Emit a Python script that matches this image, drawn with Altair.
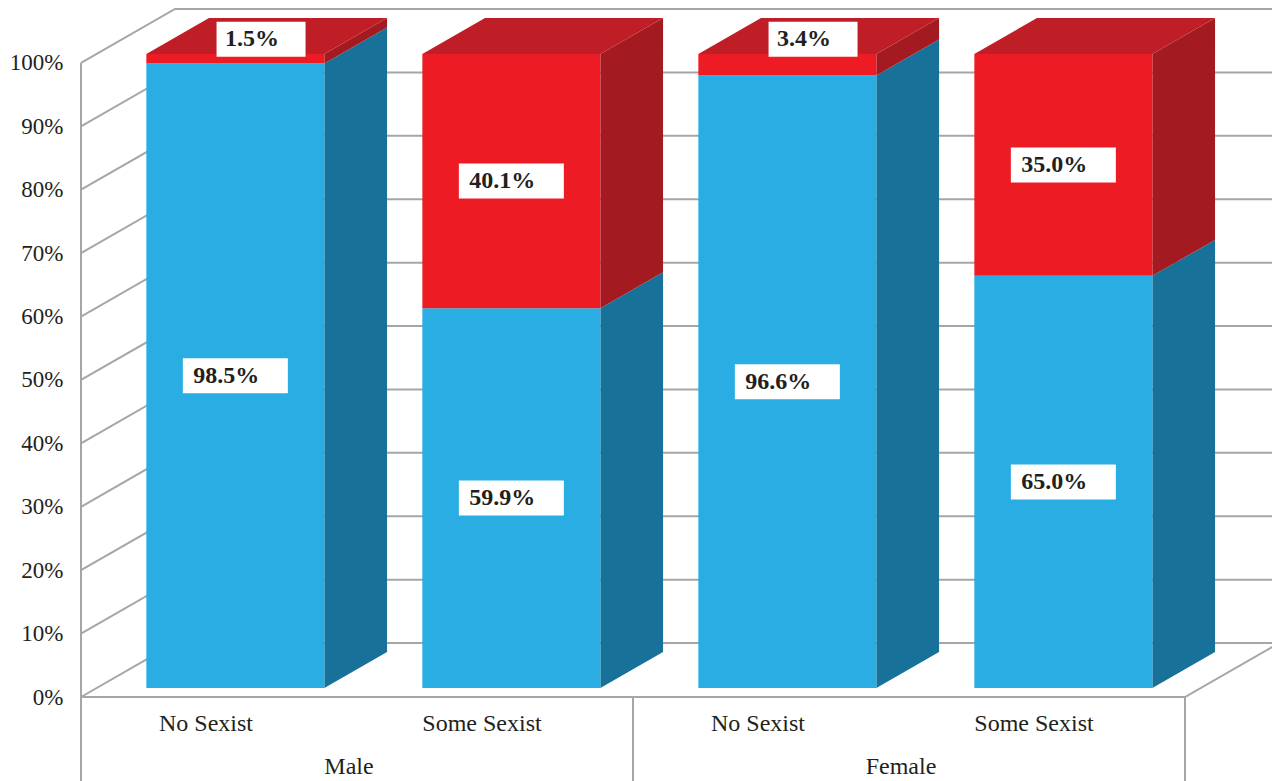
import altair as alt
import pandas as pd

# data
groups = ["Male", "Female"]
subgroups = ["No Sexist", "Some Sexist", "No Sexist", "Some Sexist"]
blue_pct = [98.5, 59.9, 96.6, 65.0]
red_pct = [1.5, 40.1, 3.4, 35.0]
y_ticks = [0, 10, 20, 30, 40, 50, 60, 70, 80, 90, 100]

N = len(subgroups)

# fake 3D: depth shift of the back wall, in data units
DX = 94 / 276      # category units
DY = 8.5           # percent units
Z1, Z2 = 1 / 6, 5 / 6   # bars sit in the middle of the depth
BAR_L, BAR_R = 0.18, 0.825
PX_PER_CAT = 276
PLOT_H = 689

FRONT = {"blue": "#29ade3", "red": "#ed1c24"}
SIDE = {"blue": "#177199", "red": "#a31b20"}
TOP = {"blue": "#1f8fc0", "red": "#c01e26"}
GRID = "#a6a6a6"
INK = "#231f20"
FONT = "Liberation Serif"

front, side, top, labels = [], [], [], []
for i in range(N):
    segs = [("blue", 0, blue_pct[i]), ("red", blue_pct[i], blue_pct[i] + red_pct[i])]
    for k, (name, b, t) in enumerate(segs):
        key = f"{i}-{name}"
        front.append({"x": i + BAR_L + DX * Z1, "x2": i + BAR_R + DX * Z1,
                      "y": b + DY * Z1, "y2": t + DY * Z1, "fill": FRONT[name]})
        for z in (Z1, Z2):
            side.append({"key": key, "x": i + BAR_R + DX * z,
                         "y": b + DY * z, "y2": t + DY * z, "fill": SIDE[name]})
        if k == len(segs) - 1:
            for z in (Z1, Z2):
                top.append({"key": key, "y": t + DY * z, "x": i + BAR_L + DX * z,
                            "x2": i + BAR_R + DX * z, "fill": TOP[name]})
        v = t - b
        cx = i + (BAR_L + BAR_R) / 2
        if v >= 5:
            labels.append({"x": cx + DX * Z1, "y": (b + t) / 2 + DY * Z1, "label": f"{v:.1f}%"})
        else:
            labels.append({"x": cx + DX * 0.44, "y": t + DY * 0.44, "label": f"{v:.1f}%"})

grid = []
for p in y_ticks:
    for o, (gx, gy) in enumerate([(0, p), (DX, p + DY), (N + DX, p + DY)]):
        grid.append({"tick": p, "o": o, "x": gx, "y": gy})

floor = pd.DataFrame({"o": [0, 1, 2], "x": [0, N, N + DX], "y": [0, 0, DY]})
dividers = pd.DataFrame({"x": [0, N / 2, N], "y": [100, 0, 0]})
sub_df = pd.DataFrame({"x": [i + 0.5 for i in range(N)], "label": subgroups})
grp_df = pd.DataFrame({"x": [g * 2 + 1 for g in range(len(groups))], "label": groups})

X = alt.X("x:Q", scale=alt.Scale(domain=[0, N + DX], range=[0, PX_PER_CAT * (N + DX)]),
          axis=None)
Y = alt.Y("y:Q", scale=alt.Scale(domain=[0, 100 + DY], range=[PLOT_H, 1]),
          axis=alt.Axis(values=y_ticks, labelExpr="datum.value + '%'", domain=False,
                        ticks=False, grid=False, labelFont=FONT, labelFontSize=23,
                        labelColor=INK, labelPadding=18, title=None))

grid_lines = alt.Chart(pd.DataFrame(grid)).mark_line(color=GRID, strokeWidth=2).encode(
    x=X, y=Y, detail="tick:N", order="o:Q")
floor_line = alt.Chart(floor).mark_line(color=GRID, strokeWidth=2).encode(
    x=X, y=Y, order="o:Q")
div_rules = alt.Chart(dividers).mark_rule(color=GRID, strokeWidth=2).encode(
    x=X, y=Y, y2=alt.value(775))

sides = alt.Chart(pd.DataFrame(side)).mark_area(orient="vertical", interpolate="linear").encode(
    x=X, y=Y, y2="y2:Q", detail="key:N", color=alt.Color("fill:N", scale=None))
tops = alt.Chart(pd.DataFrame(top)).mark_area(orient="horizontal", interpolate="linear").encode(
    y=Y, x=X, x2="x2:Q", detail="key:N", color=alt.Color("fill:N", scale=None))
fronts = alt.Chart(pd.DataFrame(front)).mark_rect().encode(
    x=X, x2="x2:Q", y=Y, y2="y2:Q", color=alt.Color("fill:N", scale=None))

lab = alt.Chart(pd.DataFrame(labels))
box5 = lab.mark_rect(width=105, height=35, color="white").encode(x=X, y=Y).transform_filter(
    "length(datum.label) >= 5")
box4 = lab.mark_rect(width=89, height=35, color="white").encode(x=X, y=Y).transform_filter(
    "length(datum.label) < 5")
lab_text = lab.mark_text(dx=-9, font=FONT, fontSize=24, fontWeight="bold", color=INK,
                         baseline="middle").encode(x=X, y=Y, text="label:N")

sub_text = alt.Chart(sub_df).mark_text(dx=-13, font=FONT, fontSize=24, color=INK,
                                       baseline="middle").encode(
    x=X, y=alt.value(716), text="label:N")
grp_text = alt.Chart(grp_df).mark_text(dx=-8, font=FONT, fontSize=24, color=INK,
                                       baseline="middle").encode(
    x=X, y=alt.value(759), text="label:N")

chart = alt.layer(
    grid_lines, floor_line, div_rules, sides, tops, fronts,
    box5, box4, lab_text, sub_text, grp_text
).properties(
    width=1191, height=PLOT_H,
    autosize=alt.AutoSizeParams(type="none"),
    padding={"left": 73, "top": 0, "right": 0, "bottom": 84},
    background="white",
).configure_view(stroke=None)

chart.save("out.html", embed_options={"renderer": "svg", "actions": False})
